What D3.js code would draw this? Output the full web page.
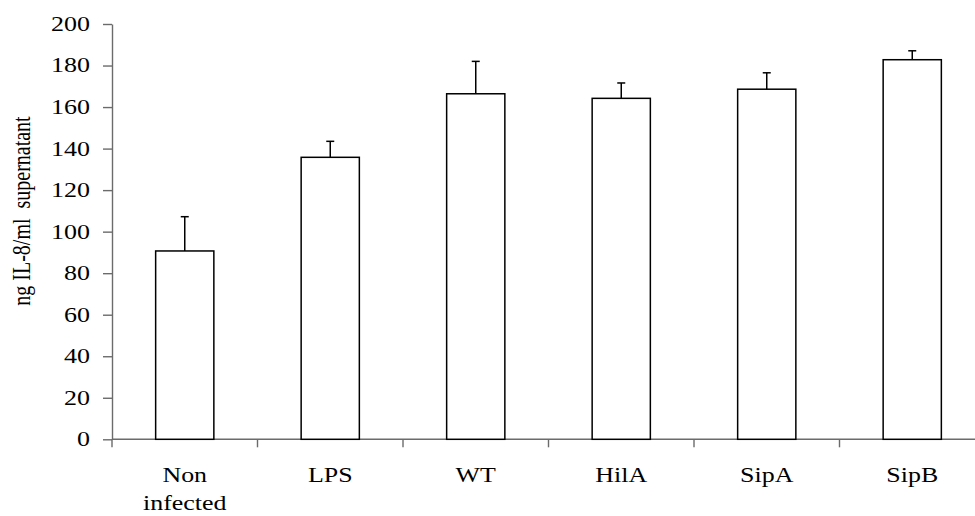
<!DOCTYPE html>
<html>
<head>
<meta charset="utf-8">
<script src="https://cdn.jsdelivr.net/npm/d3@7"></script>
<style>
  html, body { margin: 0; padding: 0; background: #fff; }
  svg { display: block; }
</style>
</head>
<body>
<div id="chart"></div>
<script>
// Chart values
const categories = ["Non infected", "LPS", "WT", "HilA", "SipA", "SipB"];
const means = [90.7, 135.8, 166.4, 164.2, 168.6, 182.8];
const errors = [16.5, 7.7, 15.6, 7.4, 7.9, 4.3];
const yTicks = [0, 20, 40, 60, 80, 100, 120, 140, 160, 180, 200];
const yLabel = "ng IL-8/ml  supernatant";

const attrs = {
  svgWidth: 975,
  svgHeight: 516,
  axisLeft: 112,
  axisRight: 985,
  yTop: 24,
  yBottom: 439.3,
  font: "'Liberation Serif', 'Times New Roman', serif",
  stretch: 1.3, // the source glyphs are wider than they are tall
  axisColor: "#6b6b6b"
};

const rows = categories.map((c, i) => ({ cat: c, mean: means[i], err: errors[i] }));

const svg = d3.select("#chart")
  .append("svg")
  .attr("width", attrs.svgWidth)
  .attr("height", attrs.svgHeight)
  .attr("font-family", attrs.font);

const x = d3.scaleBand()
  .domain(categories)
  .range([attrs.axisLeft, attrs.axisRight])
  .paddingInner(0.6)
  .paddingOuter(0.3);

const y = d3.scaleLinear()
  .domain([0, 200])
  .range([attrs.yBottom, attrs.yTop]);

// y axis
const yAxis = svg.append("g")
  .attr("transform", `translate(${attrs.axisLeft},0)`)
  .call(d3.axisLeft(y).tickValues(yTicks).tickSize(9).tickSizeOuter(0));

yAxis.select(".domain").attr("stroke", attrs.axisColor).attr("stroke-width", 1.4);
yAxis.selectAll(".tick line").attr("stroke", attrs.axisColor).attr("stroke-width", 1.4);
yAxis.selectAll(".tick text")
  .attr("x", null)
  .attr("transform", `translate(-22,0) scale(${attrs.stretch},1)`)
  .attr("font-size", 20)
  .attr("font-family", attrs.font)
  .attr("fill", "#000");

// x axis: baseline with ticks on band boundaries
const step = x.step();
const boundaries = d3.range(categories.length).map(i => attrs.axisLeft + i * step);
const xAxis = svg.append("g");
xAxis.append("line")
  .attr("x1", attrs.axisLeft)
  .attr("x2", attrs.svgWidth)
  .attr("y1", y(0))
  .attr("y2", y(0))
  .attr("stroke", attrs.axisColor)
  .attr("stroke-width", 1.4);
xAxis.selectAll("line.xtick")
  .data(boundaries)
  .join("line")
  .attr("class", "xtick")
  .attr("x1", d => d)
  .attr("x2", d => d)
  .attr("y1", y(0))
  .attr("y2", y(0) + 8)
  .attr("stroke", attrs.axisColor)
  .attr("stroke-width", 1.4);

// category labels
const labels = svg.append("g")
  .selectAll("g.xlabel")
  .data(categories)
  .join("g")
  .attr("class", "xlabel")
  .attr("transform", d => `translate(${x(d) + x.bandwidth() / 2},482) scale(${attrs.stretch * 0.95},1)`);

labels.each(function (d) {
  const words = d.split(" ");
  const t = d3.select(this).append("text")
    .attr("text-anchor", "middle")
    .attr("font-size", 21)
    .attr("fill", "#000");
  words.forEach((w, i) => {
    t.append("tspan").attr("x", 0).attr("dy", i === 0 ? 0 : 28).text(w);
  });
});

// bars
svg.append("g")
  .selectAll("rect")
  .data(rows)
  .join("rect")
  .attr("x", d => x(d.cat))
  .attr("y", d => y(d.mean))
  .attr("width", x.bandwidth())
  .attr("height", d => y(0) - y(d.mean))
  .attr("fill", "#fff")
  .attr("stroke", "#000")
  .attr("stroke-width", 1.5);

// error bars
const eb = svg.append("g")
  .selectAll("g")
  .data(rows)
  .join("g")
  .attr("transform", d => `translate(${x(d.cat) + x.bandwidth() / 2},0)`);

eb.append("line")
  .attr("x1", 0).attr("x2", 0)
  .attr("y1", d => y(d.mean))
  .attr("y2", d => y(d.mean + d.err))
  .attr("stroke", "#000")
  .attr("stroke-width", 1.5);

eb.append("line")
  .attr("x1", -4).attr("x2", 4)
  .attr("y1", d => y(d.mean + d.err))
  .attr("y2", d => y(d.mean + d.err))
  .attr("stroke", "#000")
  .attr("stroke-width", 1.5);

// y axis title
svg.append("g")
  .attr("transform", `translate(29.5,211) scale(${attrs.stretch},1) rotate(-90)`)
  .append("text")
  .attr("text-anchor", "middle")
  .attr("font-size", 20)
  .attr("fill", "#000")
  .attr("xml:space", "preserve")
  .style("white-space", "pre")
  .text(yLabel);
</script>
</body>
</html>
